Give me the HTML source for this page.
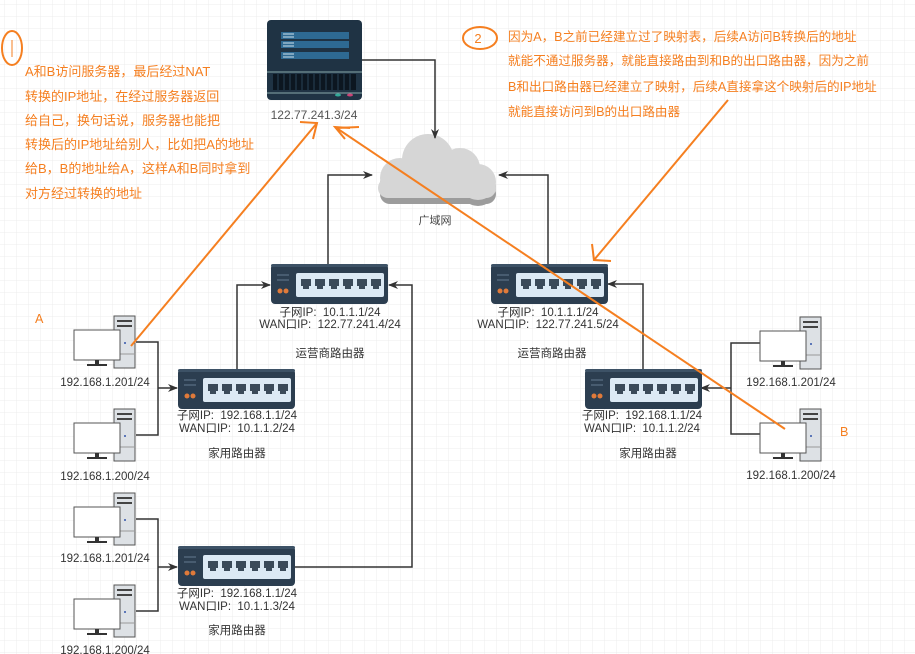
<!DOCTYPE html>
<html><head><meta charset="utf-8"><style>
body{margin:0;background:#fff}
svg{display:block}
text{font-family:"Liberation Sans","Noto Sans CJK SC",sans-serif}
</style></head><body>
<svg width="915" height="654" viewBox="0 0 915 654" xmlns="http://www.w3.org/2000/svg">
<defs>
<pattern id="g" width="12" height="12" patternUnits="userSpaceOnUse" x="4" y="4"><path d="M12 0H0V12" fill="none" stroke="#ececec" stroke-width="1"/></pattern>
<marker id="ar" markerWidth="10" markerHeight="10" refX="9" refY="5" orient="auto" markerUnits="userSpaceOnUse"><path d="M0,1 L10,5 L0,9 L3,5z" fill="#333"/></marker>
<g id="rt">
<rect x="0" y="0" width="117" height="40" rx="4" fill="#2c3e50"/>
<rect x="0" y="0" width="117" height="3" rx="2" fill="#3d5266"/>
<line x1="6" y1="11" x2="18" y2="11" stroke="#51667a" stroke-width="1.5"/>
<line x1="6" y1="16" x2="18" y2="16" stroke="#51667a" stroke-width="1.5"/>
<circle cx="9" cy="27" r="2.5" fill="#e07a3a"/><circle cx="15" cy="27" r="2.5" fill="#e07a3a"/>
<rect x="25" y="9" width="88" height="24" rx="2" fill="#dce9f4"/>
<g fill="#3b4a59">
<path d="M30 15h10v7h-2v3h-6v-3h-2z"/><path d="M44 15h10v7h-2v3h-6v-3h-2z"/><path d="M58 15h10v7h-2v3h-6v-3h-2z"/><path d="M72 15h10v7h-2v3h-6v-3h-2z"/><path d="M86 15h10v7h-2v3h-6v-3h-2z"/><path d="M100 15h10v7h-2v3h-6v-3h-2z"/>
</g></g>
<g id="pc">
<rect x="40" y="0" width="21" height="52" fill="#dde1e5" stroke="#555" stroke-width="1"/>
<rect x="43" y="4" width="15" height="2" fill="#444"/><rect x="43" y="9" width="15" height="2" fill="#444"/>
<line x1="40" y1="38" x2="61" y2="38" stroke="#999"/>
<circle cx="51" cy="27" r="1" fill="#3355aa"/>
<rect x="0" y="14" width="46" height="30" fill="#fff" stroke="#555" stroke-width="1"/>
<rect x="21" y="44" width="4" height="4" fill="#333"/><rect x="13" y="48" width="20" height="2" fill="#333"/>
</g>
</defs>
<rect width="915" height="654" fill="url(#g)"/>

<!-- server -->
<rect x="267" y="20" width="95" height="80" rx="4" fill="#1f3344"/>
<g fill="#2e6a93"><rect x="281" y="32" width="68" height="7"/><rect x="281" y="41" width="68" height="7"/><rect x="281" y="52" width="68" height="7"/></g>
<g stroke="#cfe2ee" stroke-width="1"><line x1="283" y1="34" x2="294" y2="34"/><line x1="283" y1="37" x2="294" y2="37"/><line x1="283" y1="43" x2="294" y2="43"/><line x1="283" y1="46" x2="294" y2="46"/><line x1="283" y1="54" x2="294" y2="54"/><line x1="283" y1="57" x2="294" y2="57"/></g>
<line x1="267" y1="72" x2="362" y2="72" stroke="#8aa" stroke-width="1"/>
<rect x="273" y="74" width="83" height="16" fill="#0c1620"/>
<g stroke="#1f3344" stroke-width="1.5"><line x1="278" y1="74" x2="278" y2="90"/><line x1="284" y1="74" x2="284" y2="90"/><line x1="290" y1="74" x2="290" y2="90"/><line x1="296" y1="74" x2="296" y2="90"/><line x1="302" y1="74" x2="302" y2="90"/><line x1="308" y1="74" x2="308" y2="90"/><line x1="314" y1="74" x2="314" y2="90"/><line x1="320" y1="74" x2="320" y2="90"/><line x1="326" y1="74" x2="326" y2="90"/><line x1="332" y1="74" x2="332" y2="90"/><line x1="338" y1="74" x2="338" y2="90"/><line x1="344" y1="74" x2="344" y2="90"/><line x1="350" y1="74" x2="350" y2="90"/></g>
<line x1="267" y1="93" x2="362" y2="93" stroke="#8aa"/>
<ellipse cx="338" cy="95" rx="3" ry="1.5" fill="#3a9"/><ellipse cx="350" cy="95" rx="3" ry="1.5" fill="#c47"/>
<text x="314" y="119" font-size="12" fill="#555" text-anchor="middle">122.77.241.3/24</text>

<!-- cloud -->
<g transform="translate(0,6)" fill="#9c9c9c">
<circle cx="400" cy="178" r="20"/><circle cx="428" cy="160" r="26"/><circle cx="460" cy="168" r="20"/><circle cx="478" cy="182" r="18"/><rect x="380" y="178" width="116" height="20" rx="10"/>
</g>
<g fill="#d6d6d6">
<circle cx="400" cy="178" r="20"/><circle cx="428" cy="160" r="26"/><circle cx="460" cy="168" r="20"/><circle cx="478" cy="182" r="18"/><rect x="378" y="178" width="118" height="20" rx="10"/>
</g>
<text x="435" y="224" font-size="11" fill="#444" text-anchor="middle">广域网</text>

<!-- connectors -->
<g fill="none" stroke="#333" stroke-width="1.5">
<polyline points="362,60 435,60 435,138" marker-end="url(#ar)"/>
<polyline points="328,264 328,175 372,175" marker-end="url(#ar)"/>
<polyline points="548,264 548,175 499,175" marker-end="url(#ar)"/>
<polyline points="237,369 237,285 270,285" marker-end="url(#ar)"/>
<polyline points="295,567 412,567 412,285 389,285" marker-end="url(#ar)"/>
<polyline points="643,369 643,284 608,284" marker-end="url(#ar)"/>
<polyline points="136,342 158,342 158,435 136,435"/>
<line x1="158" y1="388" x2="177" y2="388" marker-end="url(#ar)"/>
<polyline points="136,519 158,519 158,611 136,611"/>
<line x1="158" y1="567" x2="177" y2="567" marker-end="url(#ar)"/>
<polyline points="760,343 731,343 731,434 760,434"/>
<line x1="731" y1="388" x2="701" y2="388" marker-end="url(#ar)"/>
</g>

<!-- routers -->
<use href="#rt" x="271" y="264"/>
<use href="#rt" x="491" y="264"/>
<use href="#rt" x="178" y="369"/>
<use href="#rt" x="585" y="369"/>
<use href="#rt" x="178" y="546"/>
<g font-size="11.5" fill="#333" text-anchor="middle">
<text x="330" y="316">子网IP:&#160; 10.1.1.1/24</text>
<text x="330" y="328">WAN口IP:&#160; 122.77.241.4/24</text>
<text x="330" y="357">运营商路由器</text>
<text x="548" y="316">子网IP:&#160; 10.1.1.1/24</text>
<text x="548" y="328">WAN口IP:&#160; 122.77.241.5/24</text>
<text x="552" y="357">运营商路由器</text>
<text x="237" y="419">子网IP:&#160; 192.168.1.1/24</text>
<text x="237" y="432">WAN口IP:&#160; 10.1.1.2/24</text>
<text x="237" y="457">家用路由器</text>
<text x="642" y="419">子网IP:&#160; 192.168.1.1/24</text>
<text x="642" y="432">WAN口IP:&#160; 10.1.1.2/24</text>
<text x="648" y="457">家用路由器</text>
<text x="237" y="597">子网IP:&#160; 192.168.1.1/24</text>
<text x="237" y="610">WAN口IP:&#160; 10.1.1.3/24</text>
<text x="237" y="634">家用路由器</text>
<text x="105" y="386">192.168.1.201/24</text>
<text x="105" y="480">192.168.1.200/24</text>
<text x="105" y="562">192.168.1.201/24</text>
<text x="105" y="654">192.168.1.200/24</text>
<text x="791" y="386">192.168.1.201/24</text>
<text x="791" y="479">192.168.1.200/24</text>
</g>

<!-- PCs -->
<use href="#pc" x="74" y="316"/>
<use href="#pc" x="74" y="409"/>
<use href="#pc" x="74" y="493"/>
<use href="#pc" x="74" y="585"/>
<use href="#pc" x="760" y="317"/>
<use href="#pc" x="760" y="409"/>

<!-- orange annotations -->
<g stroke="#f57f20" stroke-width="2" fill="none">
<line x1="131" y1="346" x2="317" y2="123"/>
<polyline points="300,122 317,123 313,139"/>
<line x1="785" y1="429" x2="335" y2="127"/>
<polyline points="337,128 359,127"/>
<polyline points="345,139 335,127 350,128"/>
<line x1="728" y1="100" x2="594" y2="260"/>
<polyline points="592,244 594,260 611,261"/>
<ellipse cx="480" cy="38" rx="17" ry="11"/>
<ellipse cx="12" cy="48" rx="10" ry="17"/>
</g>
<line x1="12" y1="40" x2="12" y2="57" stroke="#f57f20" stroke-width="1"/>
<g font-size="13" fill="#f57f20">
<text x="478" y="43" text-anchor="middle" font-size="13">2</text>
<text x="25" y="76">A和B访问服务器，最后经过NAT</text>
<text x="25" y="101">转换的IP地址，在经过服务器返回</text>
<text x="25" y="125">给自己，换句话说，服务器也能把</text>
<text x="25" y="149">转换后的IP地址给别人，比如把A的地址</text>
<text x="25" y="173">给B，B的地址给A，这样A和B同时拿到</text>
<text x="25" y="198">对方经过转换的地址</text>
</g>
<g font-size="12.6" fill="#f57f20">
<text x="508" y="41">因为A，B之前已经建立过了映射表，后续A访问B转换后的地址</text>
<text x="508" y="65">就能不通过服务器，就能直接路由到和B的出口路由器，因为之前</text>
<text x="508" y="91">B和出口路由器已经建立了映射，后续A直接拿这个映射后的IP地址</text>
<text x="508" y="116">就能直接访问到B的出口路由器</text>
<text x="35" y="323">A</text>
<text x="840" y="436">B</text>
</g>
</svg>
</body></html>
